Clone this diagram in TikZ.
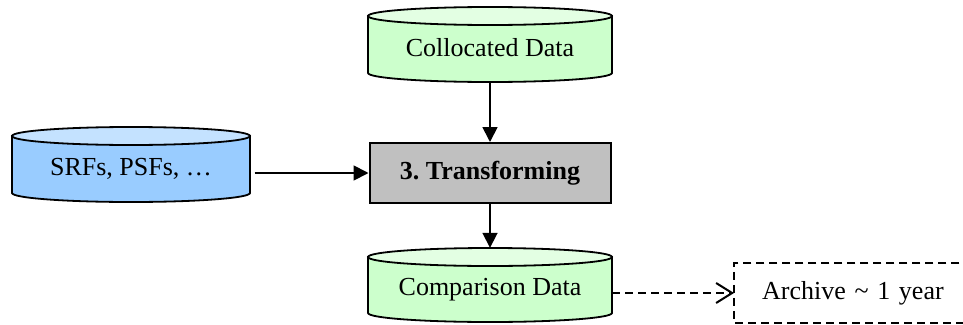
\documentclass[tikz,border=0pt]{standalone}
\usepackage{fontspec}
\setmainfont{Liberation Serif}
\usetikzlibrary{arrows.meta}
\definecolor{gbody}{HTML}{CCFFCC}
\definecolor{gtop}{HTML}{E3FFE3}
\definecolor{bbody}{HTML}{99CCFF}
\definecolor{btop}{HTML}{C4E2FF}
\definecolor{boxgray}{HTML}{C0C0C0}
\tikzset{
  cylline/.style={draw=black, line width=1.8pt},
  lbl/.style={font=\fontsize{26}{30}\selectfont, inner sep=0pt},
  flow/.style={line width=1.8pt, -{Triangle[length=15pt,width=15pt]}},
  dashln/.style={line width=2pt, dash pattern=on 8pt off 5pt},
  dflow/.style={dashln, -{Straight Barb[length=16pt,width=20pt,line width=2pt]}},
  procbox/.style={draw=black, line width=2pt, fill=boxgray, minimum width=241pt, minimum height=60pt, font=\fontsize{26}{30}\selectfont\bfseries},
  archbox/.style={minimum height=59pt, text width=260pt, inner xsep=28pt, align=left, font=\fontsize{26}{30}\selectfont}
}
\begin{document}
\frenchspacing
\begin{tikzpicture}[x=1pt,y=1pt]
\useasboundingbox (0,0) rectangle (963,-324);
\clip (0,0) rectangle (963,-324);
\fill[white] (0,0) rectangle (963,-324);
% Collocated Data cylinder
\filldraw[cylline, fill=gbody] (368,-16) -- (368,-73) arc[start angle=180,end angle=360,x radius=122,y radius=9] -- (612,-16) -- cycle;
\filldraw[cylline, fill=gtop] (490,-16) ellipse[x radius=122,y radius=9];
\node[lbl, minimum width=244pt, minimum height=75pt] (coll) at (490,-44.5) {};
\node[lbl] (colltxt) at (490,-48) {Collocated Data};
% SRFs cylinder
\filldraw[cylline, fill=bbody] (12,-136) -- (12,-193) arc[start angle=180,end angle=360,x radius=119,y radius=9] -- (250,-136) -- cycle;
\filldraw[cylline, fill=btop] (131,-136) ellipse[x radius=119,y radius=9];
\node[lbl, minimum width=241pt, minimum height=75pt] (srf) at (131,-164.5) {};
\node[lbl] (srftxt) at (131,-169) {SRFs, PSFs, …};
% Transforming box
\node[procbox] (trans) at (490,-173) {3.\ Transforming};
% Comparison Data cylinder
\filldraw[cylline, fill=gbody] (368,-257) -- (368,-313) arc[start angle=180,end angle=360,x radius=122,y radius=9] -- (612,-257) -- cycle;
\filldraw[cylline, fill=gtop] (490,-257) ellipse[x radius=122,y radius=9];
\node[lbl, minimum width=244pt, minimum height=74pt] (comp) at (490,-285) {};
\node[lbl] (comptxt) at (490,-290) {Comparison Data};
% Archive box (right side runs past the picture's edge)
\node[archbox, anchor=west] (arch) at (734,-293) {Archive \textasciitilde{} 1 year};
\draw[dashln] (arch.north east) -- (arch.north west) -- (arch.south west) -- (arch.south east);
% connectors
\coordinate (srfout) at ([xshift=3pt]srf.east |- trans.west);
\draw[flow] (coll.south) -- (trans.north);
\draw[flow] (srfout) -- (trans.west);
\draw[flow] (trans.south) -- (comp.north);
\draw[dflow] (comp.east |- arch.west) -- (arch.west);
\end{tikzpicture}
\end{document}
